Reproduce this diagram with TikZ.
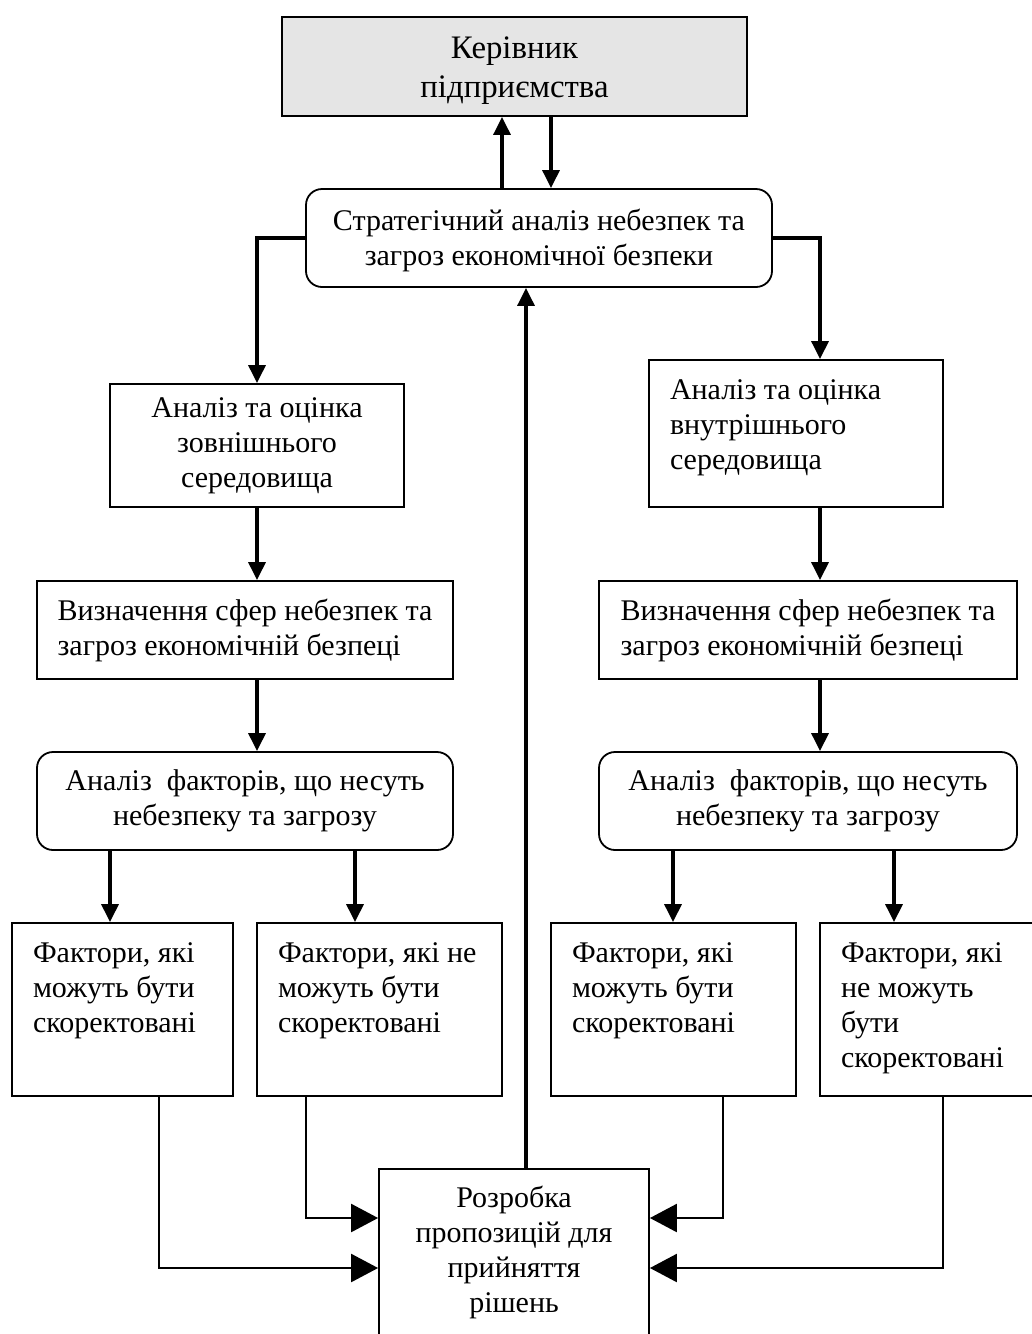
\documentclass[tikz,border=0pt]{standalone}
\usepackage{fontspec}
\setmainfont{Liberation Serif}
\usetikzlibrary{arrows.meta}

\begin{document}
\begin{tikzpicture}[x=0.5pt,y=-0.5pt,
    box/.style={draw,line width=0.9pt,inner sep=0pt,align=center,font=\fontsize{15}{17.5}\selectfont},
    rbox/.style={box,rounded corners=8pt},
    tbox/.style={box,align=flush left,inner xsep=10.5pt,text height=19.5pt},
    arr/.style={line width=1.6pt,-{Triangle[length=9pt,width=8.5pt]}},
    arrbig/.style={line width=1.2pt,-{Triangle[length=13.5pt,width=14pt]}}]
    \useasboundingbox (0,0) rectangle (1032,1334);
    %% top
    \node[box,fill=black!10,align=flush center,text width=227.5pt,inner xsep=2.5pt,
        text height=20.5pt,text depth=29pt,font=\fontsize{16.4}{19.5}\selectfont]
        (boss) at (514.5,66.5) {Керівник\\підприємства};
    \node[rbox,align=flush center,text width=223pt,inner xsep=5pt,text height=20.5pt,text depth=28.5pt]
        (strat) at (539,238) {Стратегічний аналіз небезпек та\\загроз економічної безпеки};
    %% left column
    \node[box,minimum width=147pt,minimum height=61.5pt] (lext) at (257,445.5)
        {Аналіз та оцінка\\зовнішнього\\середовища};
    \node[box,align=left,minimum width=208pt,minimum height=49pt] (lthr) at (245,630)
        {Визначення сфер небезпек та\\загроз економічній безпеці};
    \node[rbox,minimum width=208pt,minimum height=49pt] (lfac) at (245,801)
        {Аналіз\ \ факторів, що несуть\\небезпеку та загрозу};
    %% right column
    \node[tbox,text width=126pt,text depth=54pt] (rint) at (796,433.5)
        {Аналіз~та~оцінка\\внутрішнього\\середовища};
    \node[box,align=left,minimum width=209pt,minimum height=49pt] (rthr) at (808,630)
        {Визначення сфер небезпек та\\загроз економічній безпеці};
    \node[rbox,minimum width=209pt,minimum height=49pt] (rfac) at (808,801)
        {Аналіз\ \ факторів, що несуть\\небезпеку та загрозу};
    %% factors
    \node[tbox,text width=89.5pt,text depth=67pt] (fa1) at (122.5,1009.5)
        {Фактори,~які\\можуть~бути\\скоректовані};
    \node[tbox,text width=101.5pt,text depth=67pt] (fa2) at (379.5,1009.5)
        {Фактори,~які~не\\можуть~бути\\скоректовані};
    \node[tbox,text width=101.5pt,text depth=67pt] (fa3) at (673.5,1009.5)
        {Фактори,~які\\можуть~бути\\скоректовані};
    \node[tbox,text width=85.5pt,text depth=67pt] (fa4) at (926.5,1009.5)
        {Фактори,~які\\не~можуть\\бути\\скоректовані};
    %% result
    \node[box,align=flush center,text width=125pt,inner xsep=5pt,text height=19pt,text depth=71.5pt] (res) at (514,1259.5)
        {Розробка\\пропозицій~для\\прийняття\\рішень};
    %% arrows
    \draw[arr] (strat.north -| 502,0) -- (boss.south -| 502,0);
    \draw[arr] (boss.south -| 551,0) -- (strat.north -| 551,0);
    \draw[arr] (strat.west) -| (lext.north);
    \draw[arr] (lext.south) -- (lthr.north -| 257,0);
    \draw[arr] (lthr.south -| 257,0) -- (lfac.north -| 257,0);
    \draw[arr] (strat.east) -| (rint.north -| 820,0);
    \draw[arr] (rint.south -| 820,0) -- (rthr.north -| 820,0);
    \draw[arr] (rthr.south -| 820,0) -- (rfac.north -| 820,0);
    \foreach \src/\dst/\xx in {lfac/fa1/110,lfac/fa2/355,rfac/fa3/673,rfac/fa4/894}
        \draw[arr] (\src.south -| \xx,0) -- (\dst.north -| \xx,0);
    \draw[arr] (res.north -| 526,0) -- (strat.south -| 526,0);
    %% into result
    \draw[arrbig] (fa1.south -| 159,0) |- (res.west |- 0,1268);
    \draw[arrbig] (fa2.south -| 306,0) |- (res.west |- 0,1218);
    \draw[arrbig] (fa3.south -| 723,0) |- (res.east |- 0,1218);
    \draw[arrbig] (fa4.south -| 943,0) |- (res.east |- 0,1268);
\end{tikzpicture}
\end{document}
